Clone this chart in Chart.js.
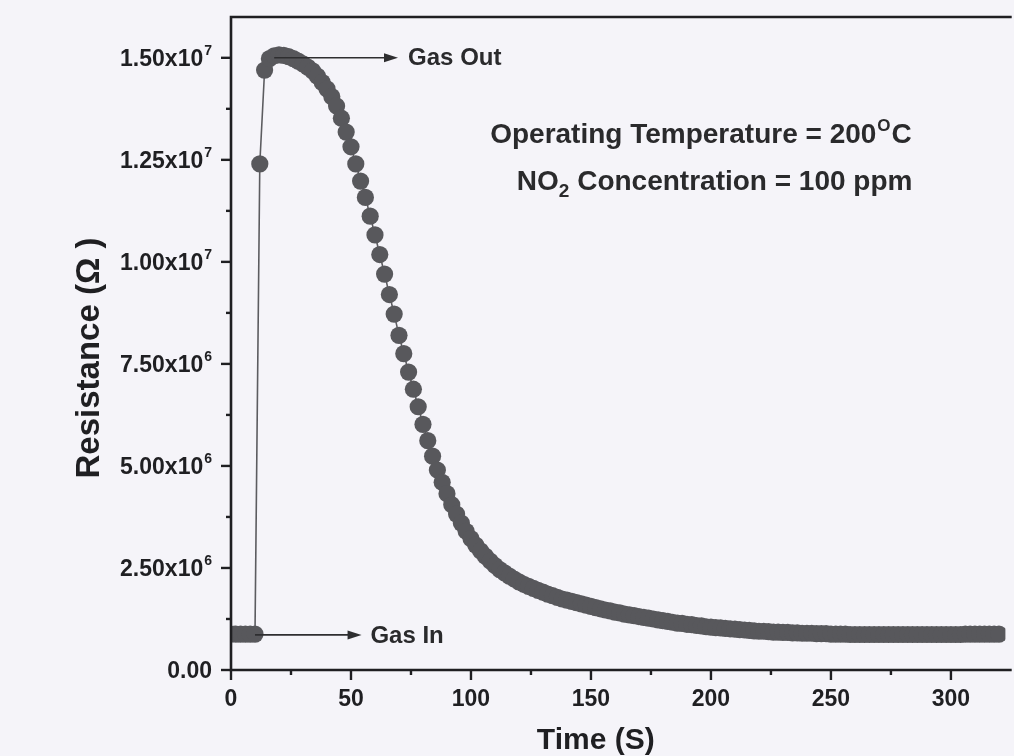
<!DOCTYPE html>
<html><head><meta charset="utf-8">
<script src="https://cdn.jsdelivr.net/npm/chart.js@4.4.0/dist/chart.umd.min.js"></script>
<style>html,body{margin:0;padding:0;background:#f5f4f9;overflow:hidden}</style>
</head><body>
<canvas id="c" width="1014" height="756"></canvas>
<script>
// ---- data ----
const timeSeconds = [0,2,4,6,8,10,12,14,16,18,20,22,24,26,28,30,32,34,36,38,40,42,44,46,48,50,52,54,56,58,60,62,64,66,68,70,72,74,76,78,80,82,84,86,88,90,92,94,96,98,100,102,104,106,108,110,112,114,116,118,120,122,124,126,128,130,132,134,136,138,140,142,144,146,148,150,152,154,156,158,160,162,164,166,168,170,172,174,176,178,180,182,184,186,188,190,192,194,196,198,200,202,204,206,208,210,212,214,216,218,220,222,224,226,228,230,232,234,236,238,240,242,244,246,248,250,252,254,256,258,260,262,264,266,268,270,272,274,276,278,280,282,284,286,288,290,292,294,296,298,300,302,304,306,308,310,312,314,316,318,320];
// resistance in units of 1e6 ohm
const resistanceMOhm = [0.88,0.88,0.88,0.88,0.88,0.88,
12.40,14.70,14.98,15.05,15.07,15.06,15.03,14.98,14.92,14.85,
14.77,14.68,14.55,14.40,14.24,14.05,13.82,13.52,13.18,12.82,
12.40,11.98,11.58,11.12,10.66,10.18,9.70,9.20,8.72,8.20,
7.75,7.30,6.88,6.45,6.02,5.62,5.24,4.90,4.60,4.32,
4.05,3.82,3.60,3.40,3.22,3.06,2.92,2.79,2.67,2.56,
2.46,2.38,2.30,2.23,2.16,2.10,2.05,2.00,1.95,1.91,
1.86,1.82,1.78,1.74,1.71,1.68,1.65,1.62,1.59,1.56,
1.53,1.50,1.47,1.45,1.42,1.40,1.37,1.35,1.33,1.31,
1.29,1.27,1.25,1.23,1.21,1.19,1.17,1.15,1.14,1.12,
1.11,1.09,1.08,1.06,1.05,1.04,1.03,1.02,1.01,1.00,
0.99,0.98,0.97,0.96,0.95,0.95,0.94,0.93,0.93,0.92,
0.92,0.91,0.91,0.90,0.90,0.90,0.89,0.89,0.89,0.88,
0.88,0.88,0.88,0.87,0.87,0.87,0.87,0.87,0.87,0.87,
0.87,0.87,0.87,0.87,0.87,0.87,0.87,0.87,0.87,0.87,
0.87,0.87,0.87,0.87,0.87,0.87,0.87,0.88,0.88,0.88,
0.88,0.88,0.88,0.88,0.88];
const xMajorTicks = [0,50,100,150,200,250,300];
const xMinorTicks = [25,75,125,175,225,275];
const xTickLabels = ['0','50','100','150','200','250','300'];
const yMajorTicks = [0,2.5e6,5e6,7.5e6,1e7,1.25e7,1.5e7];
const yMinorTicks = [1.25e6,3.75e6,6.25e6,8.75e6,1.125e7,1.375e7];
const yTickMantissa = ['0.00','2.50x10','5.00x10','7.50x10','1.00x10','1.25x10','1.50x10'];
const yTickExponent = ['','6','6','6','7','7','7'];
const xTitle = 'Time (S)';
const yTitle = 'Resistance (\u03A9 )';
const gasOut = {label:'Gas Out', from:18, to:69.6, at:1.5e7, textAt:73.8};
const gasIn  = {label:'Gas In',  from:10, to:54.4, at:0.86e6, textAt:58.1};

// ---- styles ----
const BG = '#f5f4f9';
const INK = '#1f1f22';
const FONT = '"Liberation Sans", Arial, sans-serif';

const points = timeSeconds.map((t,i)=>({x:t, y:resistanceMOhm[i]*1e6}));

function arrow(ctx, x1, y, x2){
  ctx.save();
  ctx.strokeStyle = '#2e2e30'; ctx.fillStyle = '#2e2e30'; ctx.lineWidth = 1.6;
  ctx.beginPath(); ctx.moveTo(x1, y); ctx.lineTo(x2-8, y); ctx.stroke();
  ctx.beginPath(); ctx.moveTo(x2, y); ctx.lineTo(x2-14, y-4.5); ctx.lineTo(x2-14, y+4.5); ctx.closePath(); ctx.fill();
  ctx.restore();
}

const decor = {
  id:'decor',
  beforeDraw(chart){
    const c = chart.ctx; c.save(); c.fillStyle = BG; c.fillRect(0,0,chart.width,chart.height); c.restore();
  },
  afterDatasetsDraw(chart){
    const c = chart.ctx, a = chart.chartArea, xs = chart.scales.x, ys = chart.scales.y;
    c.save();
    // frame
    c.strokeStyle = INK; c.lineWidth = 2.6; c.lineCap = 'square';
    c.beginPath();
    c.moveTo(a.right+5, a.top); c.lineTo(a.left, a.top); c.lineTo(a.left, a.bottom); c.lineTo(a.right+5, a.bottom);
    c.stroke();
    c.lineCap = 'butt'; c.lineWidth = 2.4;
    // x ticks
    xMajorTicks.forEach(v=>{const p=xs.getPixelForValue(v); c.beginPath(); c.moveTo(p,a.bottom); c.lineTo(p,a.bottom+10); c.stroke();});
    xMinorTicks.forEach(v=>{const p=xs.getPixelForValue(v); c.beginPath(); c.moveTo(p,a.bottom); c.lineTo(p,a.bottom+5); c.stroke();});
    // y ticks
    yMajorTicks.forEach(v=>{const p=ys.getPixelForValue(v); c.beginPath(); c.moveTo(a.left,p); c.lineTo(a.left-10,p); c.stroke();});
    yMinorTicks.forEach(v=>{const p=ys.getPixelForValue(v); c.beginPath(); c.moveTo(a.left,p); c.lineTo(a.left-5,p); c.stroke();});
    // y tick labels with superscript exponent
    c.fillStyle = INK; c.textBaseline = 'alphabetic'; c.textAlign = 'left';
    yMajorTicks.forEach((v,i)=>{
      const p = ys.getPixelForValue(v);
      c.font = 'bold 23px '+FONT;
      const w1 = c.measureText(yTickMantissa[i]).width;
      c.font = 'bold 14px '+FONT;
      const w2 = yTickExponent[i] ? c.measureText(yTickExponent[i]).width + 1 : 0;
      const right = a.left - 19;
      const x0 = right - w1 - w2;
      c.font = 'bold 23px '+FONT;
      c.fillText(yTickMantissa[i], x0, p+8);
      if (yTickExponent[i]) { c.font = 'bold 14px '+FONT; c.fillText(yTickExponent[i], x0+w1+1, p-3); }
    });
    // x tick labels
    c.font = 'bold 23px '+FONT; c.textAlign = 'center'; c.textBaseline = 'alphabetic';
    xMajorTicks.forEach((v,i)=>{ c.fillText(xTickLabels[i], xs.getPixelForValue(v), a.bottom+36); });
    // axis titles
    c.font = 'bold 30px '+FONT; c.textAlign = 'center';
    c.fillText(xTitle, xs.getPixelForValue(152), a.bottom+79);
    c.font = 'bold 33px '+FONT;
    c.save(); c.translate(99, 358); c.rotate(-Math.PI/2);
    c.fillText(yTitle, 0, 0); c.restore();
    // arrows
    [gasOut, gasIn].forEach(g=>{
      const y = ys.getPixelForValue(g.at);
      arrow(c, xs.getPixelForValue(g.from), y, xs.getPixelForValue(g.to));
      c.font = 'bold 24px '+FONT; c.textAlign='left'; c.textBaseline='middle'; c.fillStyle = '#2a2a2c';
      c.fillText(g.label, xs.getPixelForValue(g.textAt), y+1);
    });
    // annotation text
    c.fillStyle = '#2a2a2c'; c.textBaseline = 'alphabetic'; c.textAlign = 'left';
    let x = xs.getPixelForValue(108), y = ys.getPixelForValue(13.16e6) + 10;
    c.font = 'bold 28px '+FONT;
    const s1 = 'Operating Temperature = 200';
    c.fillText(s1, x, y); x += c.measureText(s1).width + 1;
    c.font = 'bold 17px '+FONT; c.fillText('O', x, y-12); x += c.measureText('O').width + 1;
    c.font = 'bold 28px '+FONT; c.fillText('C', x, y);
    x = xs.getPixelForValue(119.1); y = ys.getPixelForValue(12.0e6) + 10;
    c.fillText('NO', x, y); x += c.measureText('NO').width;
    c.font = 'bold 19px '+FONT; c.fillText('2', x, y+7); x += c.measureText('2').width;
    c.font = 'bold 28px '+FONT; c.fillText(' Concentration = 100 ppm', x, y);
    c.restore();
  }
};

new Chart(document.getElementById('c'), {
  type:'line',
  data:{datasets:[{
    data: points,
    borderColor:'#5c5c60', borderWidth:1.6,
    pointRadius:8.6, pointBackgroundColor:'#58585c', pointBorderWidth:0,
    pointHoverRadius:8.6, tension:0, clip:0, fill:false
  }]},
  options:{
    responsive:false, animation:false, events:[],
    layout:{padding:{top:17, right:0, left:0, bottom:0}},
    plugins:{legend:{display:false}, tooltip:{enabled:false}},
    scales:{
      x:{type:'linear', min:0, max:322.7,
         afterFit(s){ s.height = 86; },
         grid:{display:false, drawTicks:false}, border:{display:false}, ticks:{display:false}},
      y:{type:'linear', min:0, max:1.6e7,
         afterFit(s){ s.width = 231; },
         grid:{display:false, drawTicks:false}, border:{display:false}, ticks:{display:false}}
    }
  },
  plugins:[decor]
});
</script>
</body></html>
